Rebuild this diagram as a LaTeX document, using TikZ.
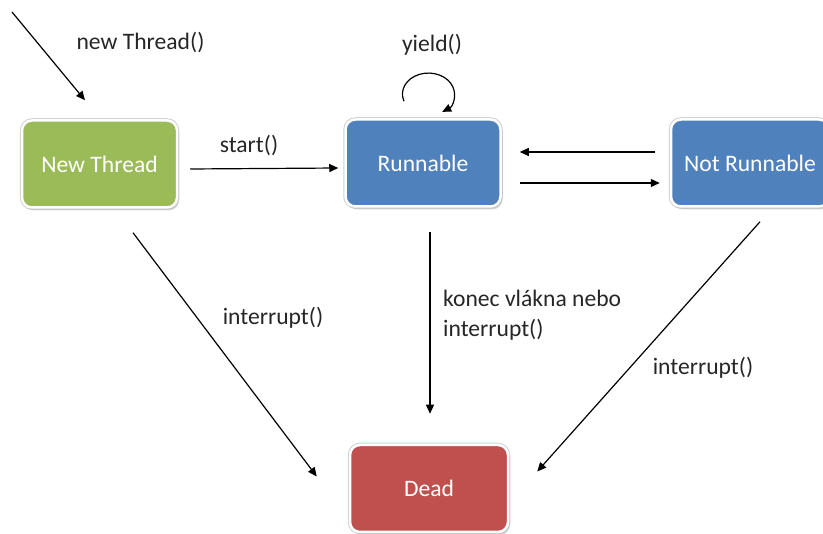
\documentclass[tikz,border=0pt]{standalone}
\usepackage{fontspec}
\setmainfont{Carlito}
\usetikzlibrary{shadows,arrows.meta,calc}
\definecolor{tgreen}{HTML}{9BBB59}
\definecolor{tblue}{HTML}{4F81BD}
\definecolor{tred}{HTML}{C0504D}
\definecolor{tlabel}{HTML}{262626}
\begin{document}
\begin{tikzpicture}[x=1pt,y=-1pt,
  state/.style={rectangle, rounded corners=10pt, minimum width=155pt, minimum height=87pt,
    draw=white, line width=2.5pt, text=white, font=\fontsize{23.6}{28}\selectfont,
    preaction={draw=black!18, line width=4.5pt},
    drop shadow={shadow xshift=2pt, shadow yshift=-3pt, fill=black!30}},
  lbl/.style={font=\fontsize{23.6}{28}\selectfont, text=tlabel, inner sep=0pt},
  arr/.style={-{Triangle[length=9pt,width=8pt]}, line width=1.2pt, black}]
\useasboundingbox (0,0) rectangle (823,534);
\node[state, fill=tgreen] (new) at (99.5,164) {New Thread};
\node[state, fill=tblue] (run) at (423,163) {Runnable};
\node[state, fill=tblue, minimum width=158pt] (not) at (750,163) {Not Runnable};
\node[state, fill=tred, minimum width=158pt, yshift=-1.5pt] (dead) at (429,487) {Dead};

\coordinate (init) at (12,12);
\draw[arr] (init) -- ($(new.north)+(-14.5,-19)$);
\node[lbl, anchor=base] (lnew) at (140.5,50) {new Thread()};

\draw[arr] ($(new.east)+(12,5)$) -- ($(run.west)+(-6,5)$);
\node[lbl, anchor=base] (lstart) at (249,153) {start()};

\draw[arr] ($(run.north)+(-19,-17)$) arc[start angle=200, end angle=-58, x radius=26pt, y radius=21pt];
\node[lbl, anchor=base] (lyield) at (432,52) {yield()};

\draw[arr] ($(not.west)+(-15,-11)$) -- ($(run.east)+(18,-11)$);
\draw[arr] ($(run.east)+(18,20)$) -- ($(not.west)+(-10,20)$);

\draw[arr] ($(new.south)+(33.5,24)$) -- ($(dead.west)+(-32,-12)$);
\node[lbl, anchor=base] (lint1) at (273,325) {interrupt()};

\draw[arr] ($(run.south)+(7,24)$) -- ($(run.south |- dead.north)+(7,-30)$);
\node[lbl, anchor=base west] (lkon1) at (443,307) {konec vlákna nebo};
\node[lbl, anchor=base west] (lkon2) at (443,337) {interrupt()};

\draw[arr] ($(not.south)+(10,14)$) -- ($(dead.east)+(28,-17)$);
\node[lbl, anchor=base] (lint2) at (703,375) {interrupt()};
\end{tikzpicture}
\end{document}
